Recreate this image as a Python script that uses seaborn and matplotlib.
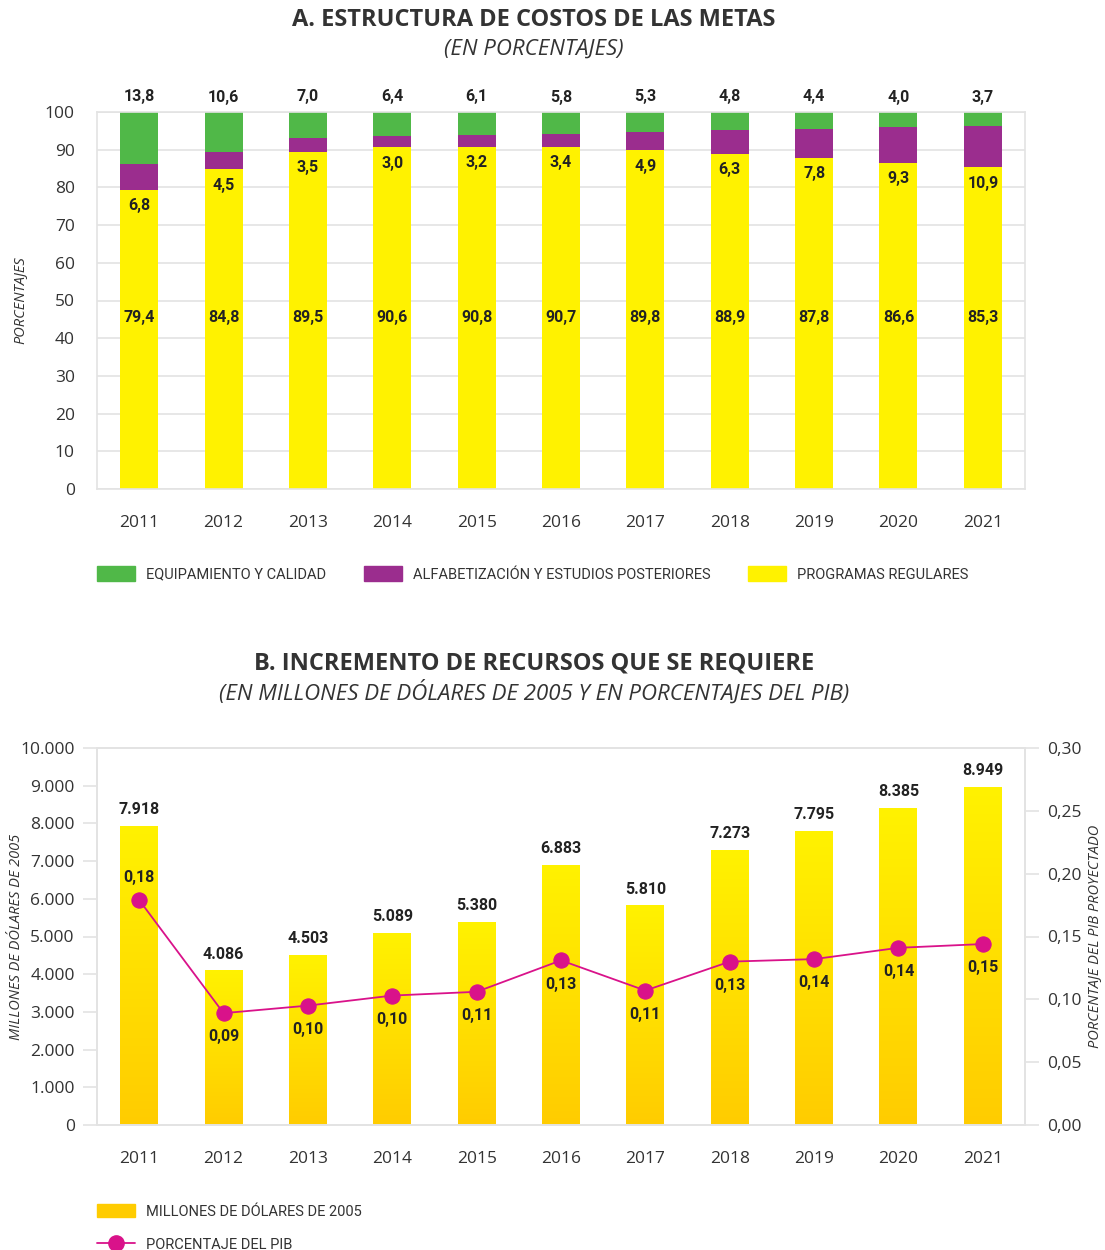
import numpy as np
import seaborn as sns
import matplotlib.pyplot as plt
from matplotlib.patches import Patch
from matplotlib.lines import Line2D
from matplotlib.colors import LinearSegmentedColormap

# panel A: cost structure (%)
years = ["2011", "2012", "2013", "2014", "2015", "2016", "2017", "2018", "2019", "2020", "2021"]
programas = [79.4, 84.8, 89.5, 90.6, 90.8, 90.7, 89.8, 88.9, 87.8, 86.6, 85.3]
alfabetizacion = [6.8, 4.5, 3.5, 3.0, 3.2, 3.4, 4.9, 6.3, 7.8, 9.3, 10.9]
equipamiento = [13.8, 10.6, 7.0, 6.4, 6.1, 5.8, 5.3, 4.8, 4.4, 4.0, 3.7]

# panel B: resources needed
millones = [7918, 4086, 4503, 5089, 5380, 6883, 5810, 7273, 7795, 8385, 8949]
pib = [0.179, 0.089, 0.095, 0.103, 0.106, 0.131, 0.107, 0.130, 0.132, 0.141, 0.144]
pib_labels = ["0,18", "0,09", "0,10", "0,10", "0,11", "0,13", "0,11", "0,13", "0,14", "0,14", "0,15"]

GREEN = "#50B848"
PURPLE = "#9B2D8E"
YELLOW = "#FFF200"
GOLD = "#FFCC00"
MAGENTA = "#D9128A"
GRID = "#E3E3E3"
TXT = "#333333"

sns.set_theme(style="white")
plt.rcParams["font.family"] = ["Open Sans", "DejaVu Sans"]
NARROW = ["Roboto", "DejaVu Sans"]
LBL = dict(fontsize=11.5, fontweight="bold", family=NARROW, color="#222222")

fig = plt.figure(figsize=(11.05, 12.5), dpi=100)
ax1 = fig.add_axes([0.0878, 0.6088, 0.8398, 0.3016])
ax2 = fig.add_axes([0.0878, 0.1000, 0.8398, 0.3016])

# ---------- A ----------
tot = np.array(programas) + np.array(alfabetizacion) + np.array(equipamiento)
mid = np.array(programas) + np.array(alfabetizacion)
sns.barplot(x=years, y=tot, color=GREEN, saturation=1, width=0.45, linewidth=0, ax=ax1)
sns.barplot(x=years, y=mid, color=PURPLE, saturation=1, width=0.45, linewidth=0, ax=ax1)
sns.barplot(x=years, y=programas, color=YELLOW, saturation=1, width=0.45, linewidth=0, ax=ax1)

for i in range(len(years)):
    ax1.text(i, tot[i] + 2.0, f"{equipamiento[i]:.1f}".replace(".", ","), ha="center", va="bottom", **LBL)
    ax1.text(i, programas[i] - 2.2, f"{alfabetizacion[i]:.1f}".replace(".", ","), ha="center", va="top", **LBL)
    ax1.text(i, 45.5, f"{programas[i]:.1f}".replace(".", ","), ha="center", va="center", **LBL)

ax1.set_ylim(0, 100)
ax1.set_xlim(-0.5, len(years) - 0.5)
ax1.set_yticks(range(0, 101, 10))
ax1.yaxis.grid(True, color=GRID, lw=1.2)
ax1.set_axisbelow(True)
ax1.set_ylabel("PORCENTAJES", fontsize=10.5, fontstyle="italic", color=TXT)
ax1.yaxis.set_label_coords(-0.075, 0.5)
ax1.set_xlabel("")

# ---------- B ----------
sns.barplot(x=years, y=millones, color=GOLD, saturation=1, width=0.45, linewidth=0, ax=ax2)
cmap = LinearSegmentedColormap.from_list("grad", [GOLD, YELLOW])
grad = np.linspace(0, 1, 256).reshape(-1, 1)
for p in list(ax2.patches):
    x0, w, h = p.get_x(), p.get_width(), p.get_height()
    ax2.imshow(grad, extent=[x0, x0 + w, 0, h], aspect="auto", cmap=cmap, origin="lower",
               zorder=p.get_zorder())
    p.set_facecolor("none")
    p.set_edgecolor("none")

for i, v in enumerate(millones):
    ax2.text(i, v + 250, f"{v:,}".replace(",", "."), ha="center", va="bottom", **LBL)

ax2.set_xlim(-0.5, len(years) - 0.5)
ax2.set_ylim(0, 10000)
ax2.set_yticks(range(0, 10001, 1000))
ax2.set_yticklabels([f"{v:,}".replace(",", ".") for v in range(0, 10001, 1000)])
ax2.set_ylabel("MILLONES DE DÓLARES DE 2005", fontsize=10.5, fontstyle="italic", color=TXT)
ax2.yaxis.set_label_coords(-0.079, 0.5)
ax2.set_xlabel("")

ax3 = ax2.twinx()
xs = np.arange(len(years))
sns.lineplot(x=xs, y=pib, color=MAGENTA, lw=1.3, marker="o", markersize=11,
             markeredgecolor=MAGENTA, ax=ax3)
ax3.set_ylim(0, 0.30)
ax3.set_yticks(np.arange(0, 0.301, 0.05))
ax3.set_yticklabels([f"{v:.2f}".replace(".", ",") for v in np.arange(0, 0.301, 0.05)])
ax3.set_ylabel("PORCENTAJE DEL PIB PROYECTADO", fontsize=10.5, fontstyle="italic", color=TXT)
ax3.yaxis.set_label_coords(1.067, 0.5)
for i, v in enumerate(pib):
    if i == 0:
        ax3.text(i, v + 0.012, pib_labels[i], ha="center", va="bottom", **LBL)
    else:
        ax3.text(i, v - 0.013, pib_labels[i], ha="center", va="top", **LBL)

# ---------- common axis styling ----------
for ax in (ax1, ax2, ax3):
    for s in ax.spines.values():
        s.set_color(GRID)
        s.set_linewidth(1.2)
    ax.tick_params(axis="y", colors=GRID, labelcolor=TXT, labelsize=12.5, length=10, width=1.2, pad=6)
    ax.tick_params(axis="x", labelsize=12.5, labelcolor=TXT, length=0, pad=19)
for ax in (ax1, ax2):
    ax.set_xticks(np.arange(-0.5, len(years), 1.0), minor=True)
    ax.tick_params(axis="x", which="minor", length=12, width=1.2, color=GRID)
ax3.tick_params(axis="y", length=10)

# ---------- titles ----------
fig.text(0.483, 0.984, "A. ESTRUCTURA DE COSTOS DE LAS METAS", ha="center", va="center",
         fontsize=17, fontweight="bold", color=TXT)
fig.text(0.483, 0.961, "(EN PORCENTAJES)", ha="center", va="center",
         fontsize=16, fontstyle="italic", color=TXT)
fig.text(0.483, 0.469, "B. INCREMENTO DE RECURSOS QUE SE REQUIERE", ha="center", va="center",
         fontsize=17, fontweight="bold", color=TXT)
fig.text(0.483, 0.446, "(EN MILLONES DE DÓLARES DE 2005 Y EN PORCENTAJES DEL PIB)", ha="center", va="center",
         fontsize=16, fontstyle="italic", color=TXT)

# ---------- legends ----------
LEG = dict(frameon=False, prop={"family": NARROW, "size": 10.5}, handlelength=2.6,
           handletextpad=0.75, borderpad=0, borderaxespad=0, labelcolor=TXT)
h1 = [Patch(color=GREEN), Patch(color=PURPLE), Patch(color=YELLOW)]
l1 = ["EQUIPAMIENTO Y CALIDAD", "ALFABETIZACIÓN Y ESTUDIOS POSTERIORES", "PROGRAMAS REGULARES"]
fig.legend(h1, l1, loc="center left", bbox_to_anchor=(0.0878, 0.5408), ncol=3,
           handleheight=1.15, columnspacing=2.6, **LEG)

h2 = [Patch(color=GOLD),
      Line2D([0], [0], color=MAGENTA, lw=1.3, marker="o", markersize=11)]
l2 = ["MILLONES DE DÓLARES DE 2005", "PORCENTAJE DEL PIB"]
fig.legend(h2, l2, loc="upper left", bbox_to_anchor=(0.0878, 0.0365), ncol=1,
           handleheight=1.0, labelspacing=1.25, **LEG)

fig.savefig("out.png", dpi=100)
